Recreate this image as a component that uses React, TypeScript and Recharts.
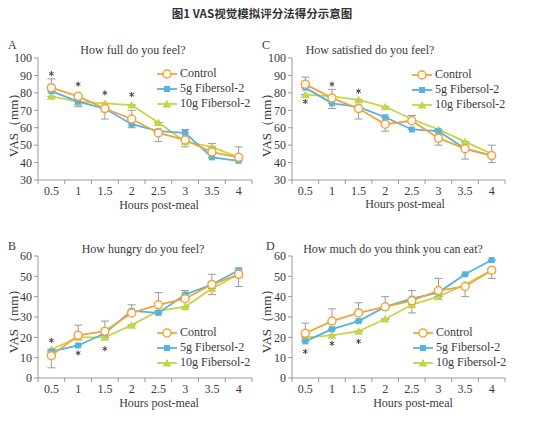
import React from "react";
import { LineChart, Line, XAxis, YAxis, ErrorBar } from "recharts";

// hours after the meal (x categories)
const HOURS = [0.5, 1, 1.5, 2, 2.5, 3, 3.5, 4];
const FULL_TICKS = [30, 40, 50, 60, 70, 80, 90, 100];
const HUNGER_TICKS = [0, 10, 20, 30, 40, 50, 60];

// A: How full do you feel?
const fullControl = [83, 78, 71, 65, 57, 53, 46, 43];
const full5g = [81, 75, 71, 62, 58, 57, 43, 41];
const full10g = [78, 75, 74, 73, 63, 52, 49, 43];
// signed SD whiskers: + drawn upwards, - drawn downwards, 0 none
const fullControlErr = [5, -5, -6, 5, -5, -4, 5, 6];
const full5gErr = [0, -3, 0, -2, 0, 2, 0, 0];
const full10gErr = [0, 0, 0, 0, 0, 0, 0, 0];
const fullStars = [91, 85, 80, 79, null, null, null, null];

// C: How satisfied do you feel?
const satControl = [85, 77, 71, 62, 64, 54, 48, 44];
const sat5g = [83, 74, 72, 66, 59, 58, 48, 44];
const sat10g = [79, 78, 76, 72, 65, 59, 52, 45];
const satControlErr = [4, 5, -6, -4, 3, -4, -6, 6];
const sat5gErr = [0, -3, 0, 0, 0, 0, 0, -4];
const sat10gErr = [0, 0, 0, 0, 0, 0, 0, 0];
const satStars = [75, 85, 81, null, null, null, null, null];

// B: How hungry do you feel?
const hungControl = [11, 21, 23, 32, 36, 39, 46, 51];
const hung5g = [13, 16, 22, 33, 32, 41, 46, 53];
const hung10g = [14, 20, 20, 26, 33, 35, 44, 51];
const hungControlErr = [-6, 5, 5, 4, 6, 0, 5, -6];
const hung5gErr = [0, 0, 0, 0, 0, 2, 0, 1];
const hung10gErr = [0, 0, 0, 0, 0, 0, -3, 0];
const hungStars = [18.5, 12.3, 14.4, null, null, null, null, null];

// D: How much do you think you can eat?
const eatControl = [22, 28, 32, 35, 38, 43, 45, 53];
const eat5g = [18, 24, 28, 35, 39, 42, 51, 58];
const eat10g = [20, 21, 23, 29, 36, 40, 46, 53];
const eatControlErr = [5, 6, 5, 5, 5, 6, -5, -4];
const eat5gErr = [0, 0, 0, 0, 0, 0, 0, 0];
const eat10gErr = [0, 0, 0, 0, -4, 0, 0, 0];
const eatStars = [13, 17, 18, null, null, null, null, null];

const ORANGE = "#F2A33A";
const BLUE = "#55B3E3";
const GREEN = "#C6D545";
const AXIS = "#9a9a9a";
const TEXT = "#3a3a3a";
const SERIF = '"Liberation Serif", "Times New Roman", serif';

const toBar = (e: number) => (e > 0 ? [0, e] : e < 0 ? [-e, 0] : [0, 0]);

function buildRows(
  c: number[], g5: number[], g10: number[],
  ce: number[], g5e: number[], g10e: number[],
  stars: (number | null)[]
) {
  return HOURS.map((h, i) => ({
    hour: h,
    control: c[i],
    g5: g5[i],
    g10: g10[i],
    ce: toBar(ce[i]),
    g5e: toBar(g5e[i]),
    g10e: toBar(g10e[i]),
    star: stars[i],
  }));
}

const xTicks = [...HOURS.map((h) => h - 0.25), ...HOURS, 4.25].sort((a, b) => a - b);

function HourTick(props: any) {
  const { x, y, payload } = props;
  const v = payload.value;
  if (HOURS.includes(v)) {
    return (
      <text x={x} y={y} dy={15} textAnchor="middle" fontSize={12} fill={TEXT} fontFamily={SERIF}>
        {String(v)}
      </text>
    );
  }
  return <line x1={x} x2={x} y1={y} y2={y + 4} stroke={AXIS} />;
}

function CircleDot(props: any) {
  const { cx, cy } = props;
  if (cx == null || cy == null) return <g />;
  return <circle cx={cx} cy={cy} r={4} fill="#fff" stroke={ORANGE} strokeWidth={1.5} />;
}

function SquareDot(props: any) {
  const { cx, cy } = props;
  if (cx == null || cy == null) return <g />;
  return <rect x={cx - 3} y={cy - 3} width={6} height={6} fill={BLUE} />;
}

function TriangleDot(props: any) {
  const { cx, cy } = props;
  if (cx == null || cy == null) return <g />;
  return <path d={`M${cx},${cy - 4} L${cx + 4.5},${cy + 3.5} L${cx - 4.5},${cy + 3.5} Z`} fill={GREEN} />;
}

// significance asterisk, drawn as spokes so it stays a neutral grey
function StarDot(props: any) {
  const { cx, cy } = props;
  if (cx == null || cy == null) return <g />;
  const r = 2.6;
  const d = [90, 30, 150]
    .map((a) => {
      const rad = (a * Math.PI) / 180;
      const dx = r * Math.cos(rad);
      const dy = r * Math.sin(rad);
      return `M${cx - dx},${cy - dy} L${cx + dx},${cy + dy}`;
    })
    .join(" ");
  return <path d={d} stroke="#444" strokeWidth={1} fill="none" />;
}

function LegendBox({ left, top }: { left: number; top: number }) {
  const rows = [
    { name: "Control", color: ORANGE, Dot: CircleDot },
    { name: "5g Fibersol-2", color: BLUE, Dot: SquareDot },
    { name: "10g Fibersol-2", color: GREEN, Dot: TriangleDot },
  ];
  return (
    <div style={{ position: "absolute", left, top }}>
      {rows.map((r) => (
        <div key={r.name} style={{ display: "flex", alignItems: "center", height: 15 }}>
          <svg width={22} height={12}>
            <line x1={1} x2={21} y1={6} y2={6} stroke={r.color} strokeWidth={1.8} />
            <r.Dot cx={11} cy={6} />
          </svg>
          <span style={{ fontSize: 12, color: TEXT, marginLeft: 2, fontFamily: SERIF, lineHeight: "15px" }}>
            {r.name}
          </span>
        </div>
      ))}
    </div>
  );
}

function Panel(props: {
  left: number;
  top: number;
  right: number;
  rows: any[];
  domain: [number, number];
  ticks: number[];
}) {
  const { left, top, right, rows, domain, ticks } = props;
  return (
    <div style={{ position: "absolute", left, top }}>
      <LineChart width={270} height={162} data={rows} margin={{ top: 10, right, left: 0, bottom: 0 }}>
        <XAxis
          dataKey="hour"
          type="number"
          domain={[0.25, 4.25]}
          ticks={xTicks}
          interval={0}
          height={30}
          tickLine={false}
          tickSize={0}
          tickMargin={0}
          stroke={AXIS}
          tick={<HourTick />}
        />
        <YAxis
          domain={domain}
          ticks={ticks}
          allowDataOverflow
          interval={0}
          width={38}
          tickSize={4}
          tickMargin={2}
          stroke={AXIS}
          tick={{ fontSize: 12, fill: TEXT, fontFamily: SERIF }}
        />
        <Line dataKey="g10" stroke={GREEN} strokeWidth={1.8} dot={<TriangleDot />} activeDot={false} isAnimationActive={false}>
          <ErrorBar dataKey="g10e" direction="y" width={4} stroke={AXIS} strokeWidth={1} />
        </Line>
        <Line dataKey="g5" stroke={BLUE} strokeWidth={1.8} dot={<SquareDot />} activeDot={false} isAnimationActive={false}>
          <ErrorBar dataKey="g5e" direction="y" width={4} stroke={AXIS} strokeWidth={1} />
        </Line>
        <Line dataKey="control" stroke={ORANGE} strokeWidth={1.8} dot={<CircleDot />} activeDot={false} isAnimationActive={false}>
          <ErrorBar dataKey="ce" direction="y" width={4} stroke={AXIS} strokeWidth={1} />
        </Line>
        <Line dataKey="star" stroke="none" dot={<StarDot />} activeDot={false} isAnimationActive={false} />
      </LineChart>
    </div>
  );
}

function Txt(props: { x: number; y: number; children: React.ReactNode; size?: number; rotate?: boolean; anchor?: "left" | "center" }) {
  const { x, y, size = 12, rotate, anchor = "center" } = props;
  const tx = anchor === "center" ? "-50%" : "0";
  return (
    <div
      style={{
        position: "absolute",
        left: x,
        top: y,
        transform: `translate(${tx}, -50%)${rotate ? " rotate(-90deg)" : ""}`,
        transformOrigin: anchor === "center" ? "center" : "left center",
        whiteSpace: "nowrap",
        fontSize: size,
        color: TEXT,
        fontFamily: SERIF,
        lineHeight: 1,
      }}
    >
      {props.children}
    </div>
  );
}

export default function App() {
  const fullRows = buildRows(fullControl, full5g, full10g, fullControlErr, full5gErr, full10gErr, fullStars);
  const satRows = buildRows(satControl, sat5g, sat10g, satControlErr, sat5gErr, sat10gErr, satStars);
  const hungRows = buildRows(hungControl, hung5g, hung10g, hungControlErr, hung5gErr, hung10gErr, hungStars);
  const eatRows = buildRows(eatControl, eat5g, eat10g, eatControlErr, eat5gErr, eat10gErr, eatStars);

  return (
    <div style={{ position: "absolute", left: 0, top: 0, width: 547, height: 430, background: "#fff", overflow: "hidden" }}>
      <div
        style={{
          position: "absolute",
          left: 0,
          width: 524,
          top: 5,
          textAlign: "center",
          fontFamily: '"Noto Sans CJK SC", sans-serif',
          fontWeight: 700,
          fontSize: 11.5,
          color: "#333",
        }}
      >
        图1 VAS视觉模拟评分法得分示意图
      </div>

      <Panel left={0} top={48} right={18} rows={fullRows} domain={[30, 100]} ticks={FULL_TICKS} />
      <Panel left={254} top={48} right={19} rows={satRows} domain={[30, 100]} ticks={FULL_TICKS} />
      <Panel left={0} top={246} right={18} rows={hungRows} domain={[0, 60]} ticks={HUNGER_TICKS} />
      <Panel left={254} top={246} right={19} rows={eatRows} domain={[0, 60]} ticks={HUNGER_TICKS} />

      <Txt x={8} y={45} anchor="left">A</Txt>
      <Txt x={262} y={45} anchor="left">C</Txt>
      <Txt x={8} y={246} anchor="left">B</Txt>
      <Txt x={266} y={246} anchor="left">D</Txt>

      <Txt x={133} y={50}>How full do you feel?</Txt>
      <Txt x={370} y={50}>How satisfied do you feel?</Txt>
      <Txt x={143} y={249}>How hungry do you feel?</Txt>
      <Txt x={393} y={249}>How much  do you think you can eat?</Txt>

      <Txt x={13} y={122} size={13} rotate>VAS（mm）</Txt>
      <Txt x={266} y={122} size={13} rotate>VAS（mm）</Txt>
      <Txt x={13} y={318} size={13} rotate>VAS（mm）</Txt>
      <Txt x={266} y={318} size={13} rotate>VAS（mm）</Txt>

      <Txt x={159} y={205}>Hours post-meal</Txt>
      <Txt x={405} y={204}>Hours post-meal</Txt>
      <Txt x={159} y={403}>Hours post-meal</Txt>
      <Txt x={413} y={403}>Hours post-meal</Txt>

      <LegendBox left={156} top={66} />
      <LegendBox left={411} top={67} />
      <LegendBox left={156} top={325} />
      <LegendBox left={412} top={325} />
    </div>
  );
}
